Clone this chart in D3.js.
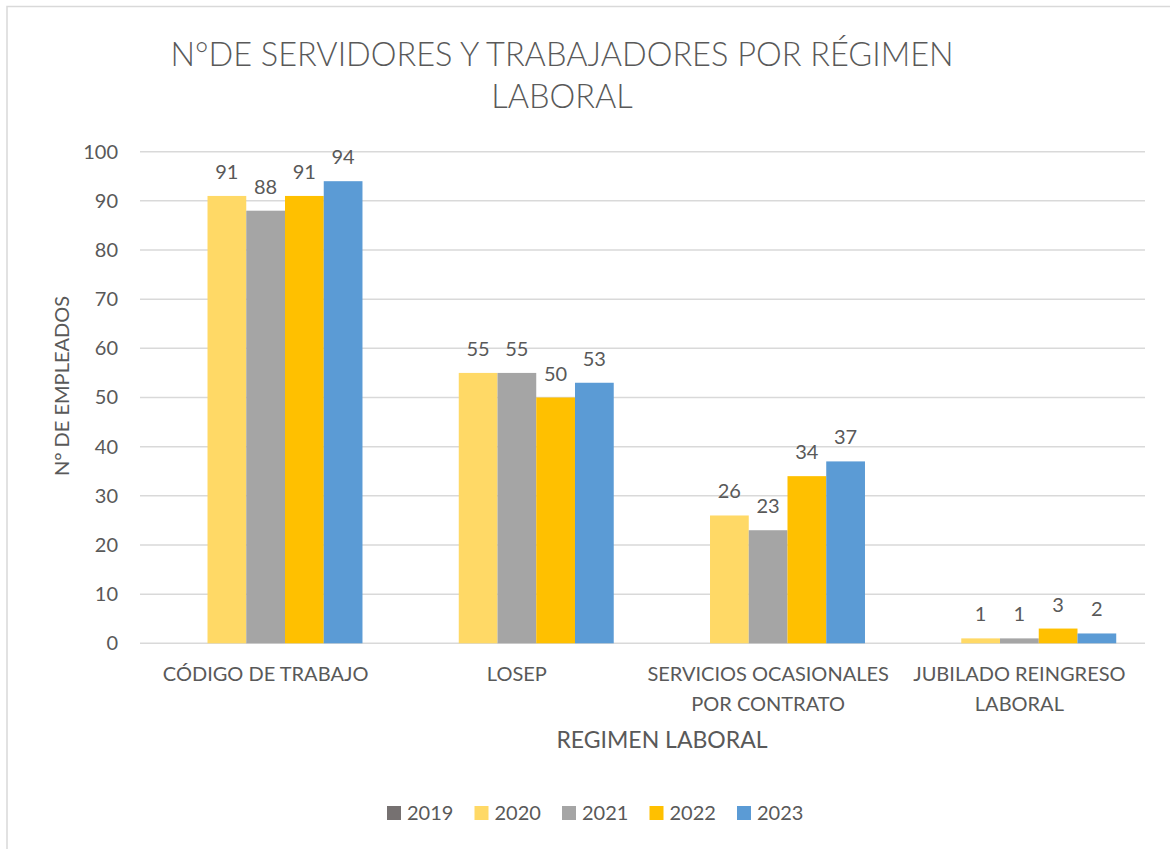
<!DOCTYPE html>
<html>
<head>
<meta charset="utf-8">
<script src="https://cdn.jsdelivr.net/npm/d3@7"></script>
<style>
  html, body { margin: 0; padding: 0; background: #fff; }
  svg { display: block; }
  text { font-family: Lato, "Noto Sans", sans-serif; fill: #595959; }
</style>
</head>
<body>
<svg id="chart" width="1170" height="849"></svg>
<script>
// Régimen laboral (categorías del eje X)
const categories = [
  ["CÓDIGO DE TRABAJO"],
  ["LOSEP"],
  ["SERVICIOS OCASIONALES", "POR CONTRATO"],
  ["JUBILADO REINGRESO", "LABORAL"]
];
const years = ["2019", "2020", "2021", "2022", "2023"];
// Número de empleados por año (2019 sin datos)
const values2019 = [null, null, null, null];
const values2020 = [91, 55, 26, 1];
const values2021 = [88, 55, 23, 1];
const values2022 = [91, 50, 34, 3];
const values2023 = [94, 53, 37, 2];
const colors = ["#767171", "#FFD966", "#A5A5A5", "#FFC000", "#5B9BD5"];
const yTicks = [0, 10, 20, 30, 40, 50, 60, 70, 80, 90, 100];

const series = [values2019, values2020, values2021, values2022, values2023];

const svg = d3.select("#chart");

// marco del gráfico
svg.append("rect")
  .attr("x", 7).attr("y", 6.5)
  .attr("width", 1200).attr("height", 900)
  .attr("fill", "none").attr("stroke", "#D9D9D9").attr("stroke-width", 1.5);

const plot = { left: 140, right: 1145, top: 151.7, bottom: 643.3 };

const x0 = d3.scaleBand()
  .domain(d3.range(categories.length))
  .range([plot.left, plot.right])
  .paddingInner(0.229).paddingOuter(0.1145);
const x1 = d3.scaleBand()
  .domain(d3.range(years.length))
  .range([0, x0.bandwidth()]);
const y = d3.scaleLinear().domain([0, 100]).range([plot.bottom, plot.top]);

// líneas de cuadrícula
svg.append("g")
  .selectAll("line")
  .data(yTicks)
  .join("line")
  .attr("x1", plot.left).attr("x2", plot.right)
  .attr("y1", d => y(d)).attr("y2", d => y(d))
  .attr("stroke", "#D9D9D9").attr("stroke-width", 1.5);

// eje Y
const yAxis = svg.append("g")
  .attr("transform", `translate(${plot.left},0)`)
  .call(d3.axisLeft(y).tickValues(yTicks).tickSize(0).tickPadding(22));
yAxis.select(".domain").remove();
yAxis.selectAll("text")
  .style("font-size", "20px").attr("fill", "#595959")
  .attr("font-family", "Lato, sans-serif");

// barras
const groups = svg.append("g")
  .selectAll("g")
  .data(categories)
  .join("g")
  .attr("transform", (d, i) => `translate(${x0(i)},0)`);

groups.each(function (cat, ci) {
  const g = d3.select(this);
  const vals = series.map((s, si) => ({ si, v: s[ci] })).filter(d => d.v != null);
  g.selectAll("rect")
    .data(vals)
    .join("rect")
    .attr("x", d => x1(d.si))
    .attr("width", x1.bandwidth())
    .attr("y", d => y(d.v))
    .attr("height", d => y(0) - y(d.v))
    .attr("fill", d => colors[d.si]);
  g.selectAll("text.lbl")
    .data(vals)
    .join("text")
    .attr("class", "lbl")
    .attr("x", d => x1(d.si) + x1.bandwidth() / 2)
    .attr("y", d => y(d.v) - 17)
    .attr("text-anchor", "middle")
    .style("font-size", "20px")
    .text(d => d.v);
});

// etiquetas de categoría
svg.append("g")
  .selectAll("text")
  .data(categories)
  .join("text")
  .attr("text-anchor", "middle")
  .attr("x", (d, i) => x0(i) + x0.bandwidth() / 2)
  .attr("y", 681)
  .style("font-size", "20px")
  .each(function (lines) {
    d3.select(this).selectAll("tspan")
      .data(lines)
      .join("tspan")
      .attr("x", d3.select(this).attr("x"))
      .attr("dy", (d, i) => i === 0 ? 0 : 30)
      .text(d => d);
  });

// títulos de ejes
svg.append("text")
  .attr("x", 662).attr("y", 748)
  .attr("text-anchor", "middle")
  .style("font-size", "23px")
  .text("REGIMEN LABORAL");

svg.append("text")
  .attr("transform", "translate(69,386) rotate(-90)")
  .attr("text-anchor", "middle")
  .style("font-size", "20px")
  .text("N° DE EMPLEADOS");

// título
const title = svg.append("text")
  .attr("text-anchor", "middle")
  .style("font-size", "32.5px")
  .style("font-weight", 300);
title.append("tspan").attr("x", 562).attr("y", 66).text("N°DE SERVIDORES Y TRABAJADORES POR RÉGIMEN");
title.append("tspan").attr("x", 562).attr("y", 108).text("LABORAL");

// leyenda
const legend = svg.append("g")
  .selectAll("g")
  .data(years)
  .join("g")
  .attr("transform", (d, i) => `translate(${387 + i * 87.5},813)`);
legend.append("rect")
  .attr("x", 0).attr("y", -7)
  .attr("width", 14).attr("height", 14)
  .attr("fill", (d, i) => colors[i]);
legend.append("text")
  .attr("x", 20).attr("y", 7)
  .style("font-size", "20px")
  .text(d => d);
</script>
</body>
</html>
